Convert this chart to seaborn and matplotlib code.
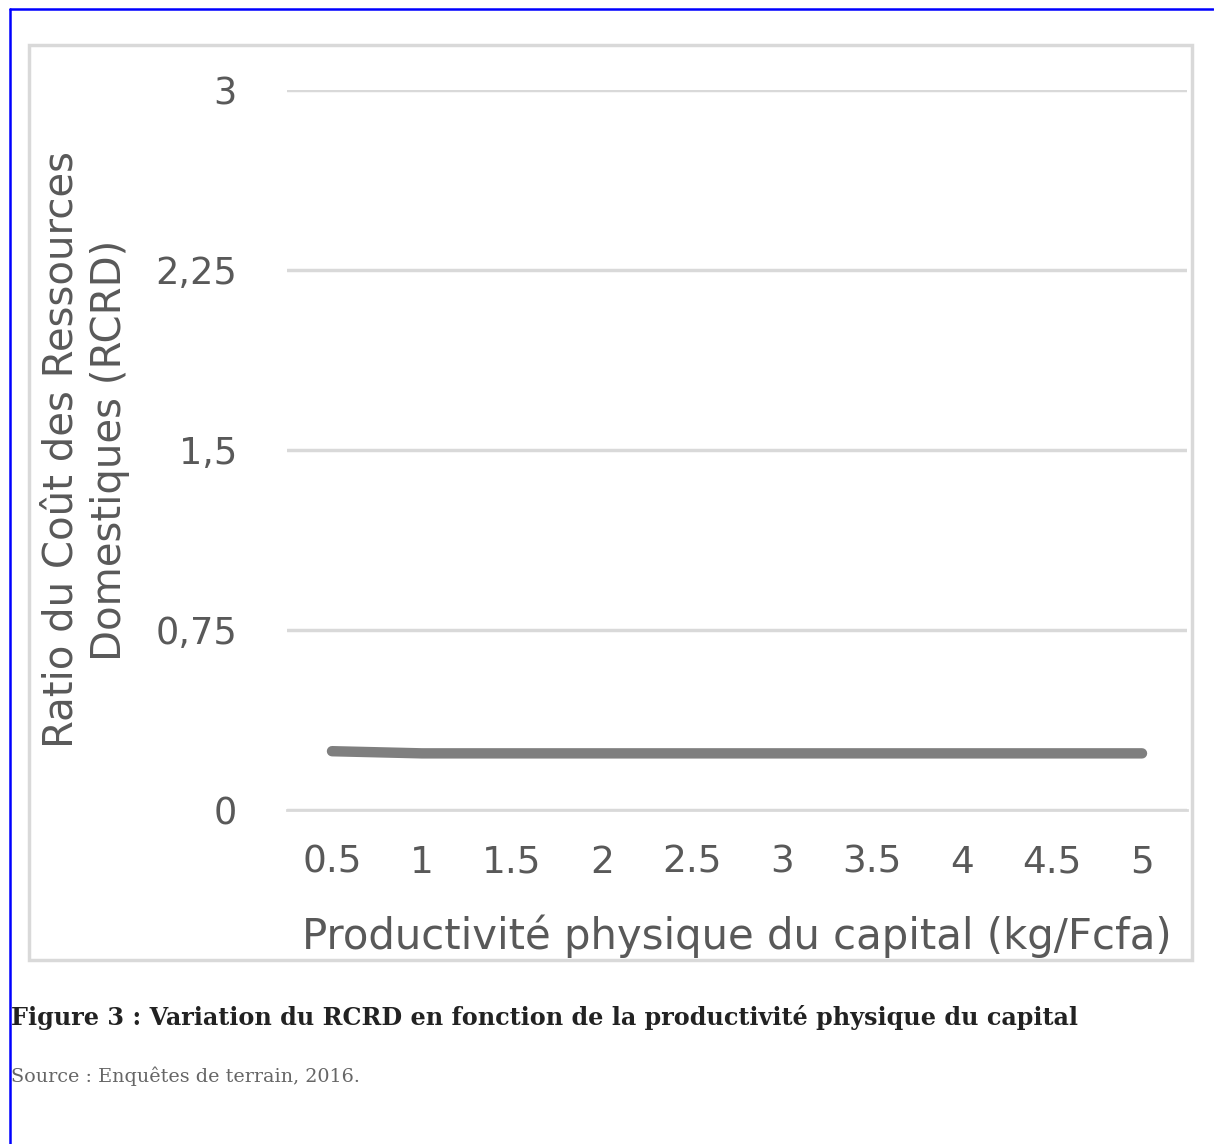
import numpy as np
import pandas as pd
import matplotlib.pyplot as plt
import seaborn as sns
from matplotlib.lines import Line2D
from matplotlib.patches import Rectangle

# data
productivite = ["0.5", "1", "1.5", "2", "2.5", "3", "3.5", "4", "4.5", "5"]
rcrd = [0.245, 0.236, 0.236, 0.236, 0.236, 0.236, 0.236, 0.236, 0.236, 0.236]
y_ticks = [0, 0.75, 1.5, 2.25, 3]
y_labels = ["0", "0,75", "1,5", "2,25", "3"]

df = pd.DataFrame({"pos": np.arange(len(productivite)), "rcrd": rcrd})

sns.set_style("white")
plt.rcParams['font.family'] = ['DejaVu Sans']

W, H = 1214, 1144
fig = plt.figure(figsize=(W / 100, H / 100), dpi=100)
ax = fig.add_axes([287 / W, (H - 810) / H, 900 / W, 720 / H])

txt = "#595959"
grid = "#d9d9d9"

sns.lineplot(data=df, x="pos", y="rcrd", ax=ax, color="#7f7f7f",
             linewidth=7.5, solid_capstyle="round")

ax.set_xlim(-0.5, len(productivite) - 0.5)
ax.set_ylim(0, 3)
ax.set_yticks(y_ticks)
ax.set_yticklabels(y_labels, fontsize=26.5, color=txt)
ax.yaxis.grid(True, color=grid, linewidth=2.5)
ax.set_axisbelow(True)
ax.tick_params(axis="y", length=0, pad=36)

# tick marks at category borders, labels at centres
ax.set_xticks(np.arange(len(productivite) + 1) - 0.5)
ax.set_xticklabels([])
ax.tick_params(axis="x", which="major", length=10, width=2, color=grid, direction="out")
ax.set_xticks(np.arange(len(productivite)), minor=True)
ax.set_xticklabels(productivite, minor=True, fontsize=27, color=txt)
ax.tick_params(axis="x", which="minor", length=0, pad=25)

for s in ["left", "right", "top"]:
    ax.spines[s].set_visible(False)
ax.spines["bottom"].set_color(grid)
ax.spines["bottom"].set_linewidth(2)

ax.set_xlabel("Productivité physique du capital (kg/Fcfa)", fontsize=30.2, color=txt, labelpad=24)
ax.set_ylabel("Ratio du Coût des Ressources\nDomestiques (RCRD)", fontsize=29, color=txt,
              linespacing=1.25)
ax.yaxis.set_label_coords(-0.175, 0.5)

# chart frame
fig.add_artist(Rectangle((29 / W, (H - 960) / H), 1163 / W, 915 / H, transform=fig.transFigure,
                         fill=False, edgecolor=grid, linewidth=2.5))

# page border lines
fig.add_artist(Line2D([10 / W, 1213 / W], [(H - 9) / H] * 2, transform=fig.transFigure,
                      color="#0000ff", linewidth=1.8))
fig.add_artist(Line2D([10 / W] * 2, [0, (H - 9) / H], transform=fig.transFigure,
                      color="#0000ff", linewidth=1.8))

fig.text(11 / W, (H - 1018) / H, "Figure 3 : Variation du RCRD en fonction de la productivité physique du capital",
         fontsize=17.2, fontweight="bold", family="DejaVu Serif", color="#222222", va="center")
fig.text(11 / W, (H - 1076) / H, "Source : Enquêtes de terrain, 2016.",
         fontsize=13.8, family="DejaVu Serif", color="#666666", va="center")

fig.savefig("out.png", dpi=100)
